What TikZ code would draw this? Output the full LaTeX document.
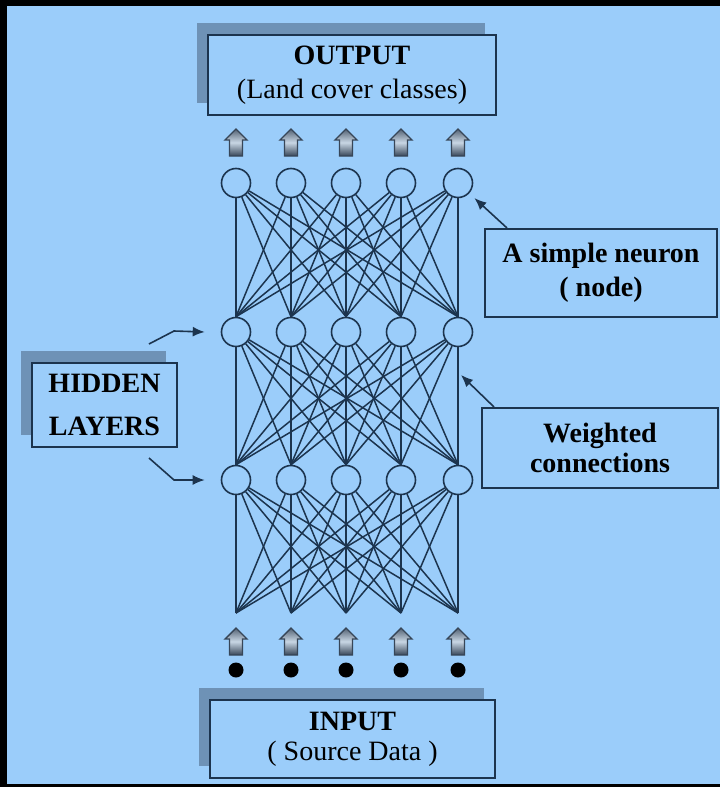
\documentclass[tikz,border=0pt]{standalone}
\usepackage{fontspec}
\setmainfont{Liberation Serif}
\usetikzlibrary{arrows.meta,shadows}

\definecolor{skyblue}{RGB}{155,205,250}
\definecolor{shadeblue}{RGB}{110,146,182}
\definecolor{inkblue}{RGB}{28,52,78}
\definecolor{arrowlight}{RGB}{200,214,228}
\definecolor{arrowdark}{RGB}{55,70,88}

\begin{document}
\begin{tikzpicture}[x=0.5pt, y=-0.5pt,
  every node/.style={font=\fontsize{14}{17}\selectfont},
  heavy/.style={font=\fontsize{14}{17}\selectfont\bfseries},
  neuron/.style={circle, draw=inkblue, line width=0.8pt, fill=skyblue,
    minimum size=14.5pt, inner sep=0pt},
  link/.style={draw=inkblue, line width=0.75pt},
  label box/.style={draw=inkblue, line width=1pt, fill=skyblue, align=center, inner sep=0pt},
  raised/.style={drop shadow={shadow xshift=-5.5pt, shadow yshift=6pt, fill=shadeblue, opacity=1}},
  pointer/.style={draw=inkblue, line width=0.8pt, -{Latex[length=6pt,width=5pt]}},
  feed/.style={draw=arrowdark, line width=0.7pt, top color=arrowdark!80!arrowlight,
    bottom color=arrowdark, middle color=arrowlight},
  dot/.style={circle, fill=black, minimum size=7.5pt, inner sep=0pt}]

% background and frame
\useasboundingbox (0,0) rectangle (720,787);
\fill[skyblue] (0,0) rectangle (720,787);
\fill[black] (0,0) rectangle (7,787);
\fill[black] (0,0) rectangle (720,6);
\fill[black] (0,784) rectangle (720,787);

% three layers of neurons, input points and data dots
\foreach \x [count=\i] in {236,291,346,401,458} {
  \node[neuron] (a\i) at (\x,183) {};
  \node[neuron] (b\i) at (\x,332) {};
  \node[neuron] (c\i) at (\x,480) {};
  \coordinate (x\i) at (\x,613);
  \node[dot] (d\i) at (\x,670) {};
}

% fully connected layers
\foreach \i in {1,...,5}
  \foreach \j in {1,...,5} {
    \draw[link] (a\i) -- (b\j.north);
    \draw[link] (b\i) -- (c\j.north);
    \draw[link] (c\i) -- (x\j);
  }

% block arrows above and below the net
\foreach \x in {236,291,346,401,458}
  \foreach \t in {129,628}
    \path[feed] (\x,\t) -- (\x+11,\t+11) -- (\x+6.5,\t+11) -- (\x+6.5,\t+27)
      -- (\x-6.5,\t+27) -- (\x-6.5,\t+11) -- (\x-11,\t+11) -- cycle;

% labels
\node[label box, raised, minimum width=144pt, minimum height=40pt] (output) at (352,75)
  {\textbf{OUTPUT}\\(Land cover classes)};
\node[label box, raised, minimum width=142.5pt, minimum height=39pt] (input) at (352.5,739)
  {\textbf{INPUT}\\[-2pt]( Source Data )};
\node[label box, raised, heavy, minimum width=72.5pt, minimum height=42pt] (hidden) at (104.5,405)
  {HIDDEN\\[4.5pt]LAYERS};
\node[label box, heavy, minimum width=116pt, minimum height=44pt] (neuron) at (601,273)
  {A simple neuron\\( node)};
\node[label box, heavy, minimum width=118pt, minimum height=40pt] (weights) at (600,448)
  {Weighted\\[-2pt]connections};

% pointers
\coordinate (wtip) at (461,375);
\draw[pointer, shorten >=3.5pt] ([xshift=11.5pt]neuron.north west) -- (a5);
\draw[pointer] ([xshift=6.5pt]weights.north west) -- (wtip);
\draw[pointer] ([shift={(-29,-18)}]hidden.north east) -- ++(25,-13) -- ([xshift=-8pt]b1.west);
\draw[pointer] ([shift={(-29,10)}]hidden.south east) -- ++(25,22) -- ([xshift=-8pt]c1.west);
\end{tikzpicture}
\end{document}
